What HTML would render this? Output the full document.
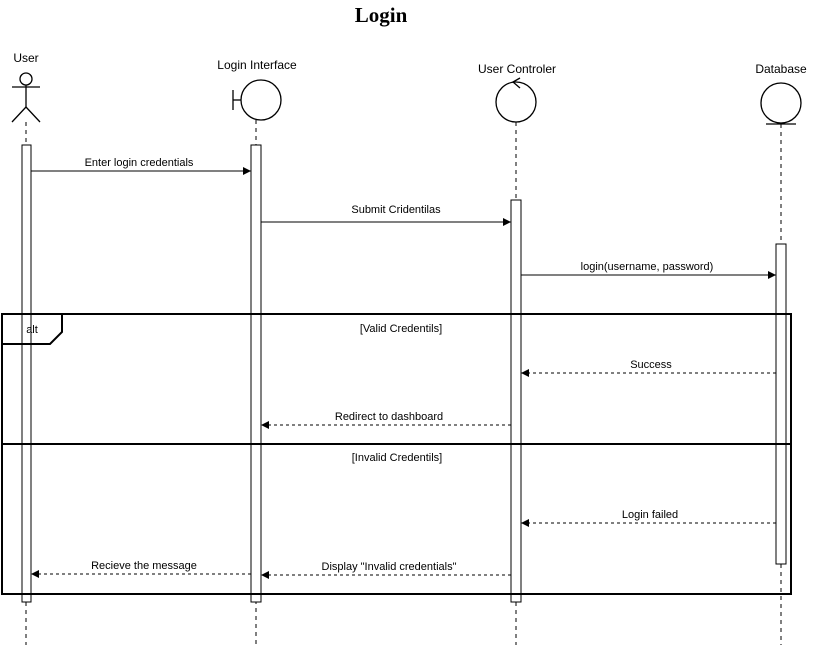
<!DOCTYPE html>
<html><head><style>body{margin:0;background:#fff}</style></head><body>
<svg width="816" height="647" xmlns="http://www.w3.org/2000/svg" font-family="Liberation Sans, sans-serif" font-size="11">
<defs><marker id="a" markerWidth="8" markerHeight="8" refX="8" refY="4" orient="auto" markerUnits="userSpaceOnUse"><path d="M0,0L8,4L0,8z" fill="#000"/></marker></defs>
<text x="381" y="22" text-anchor="middle" font-family="Liberation Serif, serif" font-weight="bold" font-size="21">Login</text>
<g font-size="12" text-anchor="middle">
<text x="26" y="62">User</text><text x="257" y="69">Login Interface</text><text x="517" y="73">User Controler</text><text x="781" y="73">Database</text></g>
<g stroke="#000" fill="none" stroke-width="1.3">
<circle cx="26" cy="79" r="6"/><line x1="12" y1="87" x2="40" y2="87"/><line x1="26" y1="85" x2="26" y2="107"/><path d="M12,122L26,107L40,122"/>
<circle cx="261" cy="100" r="20"/><line x1="233" y1="90" x2="233" y2="110"/><line x1="233" y1="100" x2="241" y2="100"/>
<circle cx="516" cy="102" r="20"/><path d="M520,78L513,82L520,88"/>
<circle cx="781" cy="103" r="20"/><line x1="766" y1="124" x2="796" y2="124"/>
</g>
<g stroke="#000" stroke-dasharray="4,4">
<line x1="26" y1="122" x2="26" y2="645"/><line x1="256" y1="120" x2="256" y2="645"/><line x1="516" y1="122" x2="516" y2="645"/><line x1="781" y1="124" x2="781" y2="645"/></g>
<g stroke="#000" fill="#fff">
<rect x="22" y="145" width="9" height="457"/><rect x="251" y="145" width="10" height="457"/><rect x="511" y="200" width="10" height="402"/><rect x="776" y="244" width="10" height="320"/></g>
<rect x="2" y="314" width="789" height="280" fill="none" stroke="#000" stroke-width="2"/>
<line x1="2" y1="444" x2="791" y2="444" stroke="#000" stroke-width="2"/>
<path d="M2,344H50L62,332V314" fill="none" stroke="#000" stroke-width="2"/>
<text x="32" y="333" text-anchor="middle">alt</text>
<text x="401" y="332" text-anchor="middle">[Valid Credentils]</text>
<text x="397" y="461" text-anchor="middle">[Invalid Credentils]</text>
<g stroke="#000" marker-end="url(#a)">
<line x1="31" y1="171" x2="251" y2="171"/><line x1="261" y1="222" x2="511" y2="222"/><line x1="521" y1="275" x2="776" y2="275"/></g>
<g stroke="#000" stroke-dasharray="3,3" marker-end="url(#a)">
<line x1="776" y1="373" x2="521" y2="373"/><line x1="511" y1="425" x2="261" y2="425"/><line x1="776" y1="523" x2="521" y2="523"/><line x1="511" y1="575" x2="261" y2="575"/><line x1="251" y1="574" x2="31" y2="574"/></g>
<g text-anchor="middle">
<text x="139" y="166">Enter login credentials</text><text x="396" y="213">Submit Cridentilas</text><text x="647" y="270">login(username, password)</text>
<text x="651" y="368">Success</text><text x="389" y="420">Redirect to dashboard</text><text x="650" y="518">Login failed</text>
<text x="389" y="570">Display "Invalid credentials"</text><text x="144" y="569">Recieve the message</text></g>
</svg>
</body></html>
